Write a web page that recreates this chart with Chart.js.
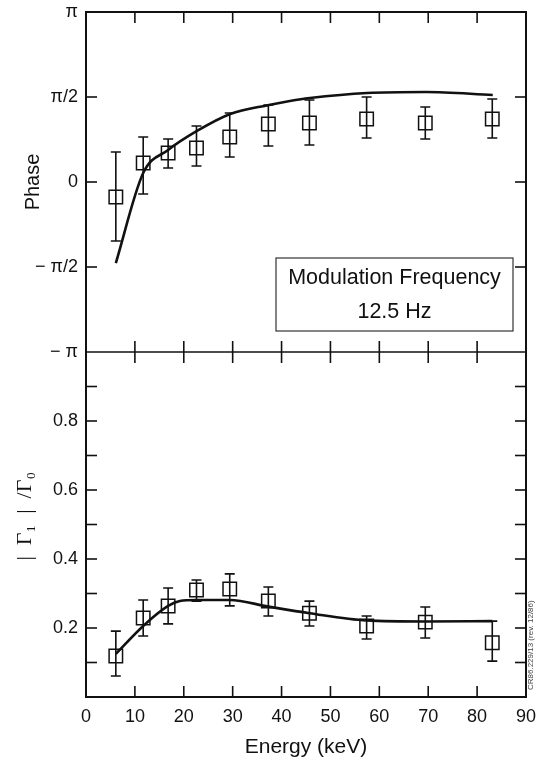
<!DOCTYPE html>
<html>
<head>
<meta charset="utf-8">
<script src="https://cdn.jsdelivr.net/npm/chart.js@4.4.1/dist/chart.umd.min.js"></script>
<style>
  html, body { margin: 0; padding: 0; background: #fff; }
</style>
</head>
<body>
<canvas id="chart" width="537" height="766"></canvas>
<script>
// energies of the measured points (keV)
const ENERGY = [6.1, 11.7, 16.8, 22.6, 29.4, 37.3, 45.7, 57.4, 69.4, 83.1];

// phase (radians) with error bar ends
const PHASE    = [-0.277, 0.351, 0.536, 0.628, 0.832, 1.072, 1.090, 1.164, 1.090, 1.164];
const PHASE_LO = [-1.090, -0.222, 0.259, 0.296, 0.462, 0.665, 0.684, 0.813, 0.795, 0.813];
const PHASE_HI = [0.554, 0.832, 0.795, 1.035, 1.275, 1.423, 1.515, 1.571, 1.386, 1.534];

// model curve for phase
const PHASE_FIT_E = [6.1, 11.7, 16.8, 22.7, 29.5, 37.4, 41.7, 45.8, 57.5, 69.5, 83.2];
const PHASE_FIT   = [-1.497, 0.166, 0.591, 0.943, 1.257, 1.423, 1.497, 1.552, 1.645, 1.663, 1.608];

// |Gamma1|/Gamma0 with error bar ends
const AMP    = [0.119, 0.229, 0.264, 0.310, 0.313, 0.278, 0.243, 0.206, 0.217, 0.157];
const AMP_LO = [0.061, 0.177, 0.212, 0.278, 0.264, 0.235, 0.206, 0.168, 0.171, 0.104];
const AMP_HI = [0.191, 0.281, 0.316, 0.339, 0.357, 0.319, 0.278, 0.235, 0.261, 0.220];

// model curve for amplitude
const AMP_FIT_E = [6.1, 11.7, 16.8, 19.2, 22.6, 29.4, 37.3, 45.7, 57.4, 69.4, 83.1];
const AMP_FIT   = [0.125, 0.206, 0.264, 0.278, 0.281, 0.281, 0.262, 0.243, 0.222, 0.219, 0.220];

// axis ticks
const X_TICKS = [0, 10, 20, 30, 40, 50, 60, 70, 80, 90];
const PHASE_TICKS  = [-Math.PI, -Math.PI / 2, 0, Math.PI / 2, Math.PI];
const PHASE_LABELS = ['\u2212 \u03c0', '\u2212 \u03c0/2', '0', '\u03c0/2', '\u03c0'];
const AMP_TICKS  = [0.1, 0.2, 0.3, 0.4, 0.5, 0.6, 0.7, 0.8, 0.9];
const AMP_LABELS = ['', '0.2', '', '0.4', '', '0.6', '', '0.8', ''];

const INK = '#111';
const SANS = "'Liberation Sans', Arial, Helvetica, sans-serif";
const TICK = 11;

Chart.defaults.font.family = SANS;
Chart.defaults.color = INK;

const pts = (xs, ys) => xs.map((x, i) => ({ x: x, y: ys[i] }));

// error bars drawn from the dataset's errLo / errHi arrays
const errorBars = {
  id: 'errorBars',
  afterDatasetsDraw(chart) {
    const ctx = chart.ctx;
    chart.data.datasets.forEach((ds, i) => {
      if (!ds.errLo) return;
      const meta = chart.getDatasetMeta(i);
      const xs = meta.xScale, ys = meta.yScale;
      ctx.save();
      ctx.strokeStyle = INK;
      ctx.lineWidth = 1.6;
      ds.data.forEach((p, j) => {
        const x = xs.getPixelForValue(p.x);
        const y1 = ys.getPixelForValue(ds.errLo[j]);
        const y2 = ys.getPixelForValue(ds.errHi[j]);
        ctx.beginPath();
        ctx.moveTo(x, y1); ctx.lineTo(x, y2);
        ctx.moveTo(x - 5, y1); ctx.lineTo(x + 5, y1);
        ctx.moveTo(x - 5, y2); ctx.lineTo(x + 5, y2);
        ctx.stroke();
      });
      ctx.restore();
    });
  }
};

// frame, inward ticks, legend box, side note
const frame = {
  id: 'frame',
  afterDraw(chart) {
    const { ctx, chartArea: a, scales } = chart;
    const xs = scales.x, yp = scales.yPhase, ya = scales.yAmp;
    const mid = yp.bottom;
    const line = (x1, y1, x2, y2) => { ctx.beginPath(); ctx.moveTo(x1, y1); ctx.lineTo(x2, y2); ctx.stroke(); };
    ctx.save();
    ctx.strokeStyle = INK;
    ctx.lineWidth = 2;
    ctx.strokeRect(a.left, a.top, a.right - a.left, a.bottom - a.top);
    ctx.lineWidth = 1.6;
    line(a.left, mid, a.right, mid);
    xs.ticks.forEach(t => {
      const x = xs.getPixelForValue(t.value);
      if (x <= a.left + 1 || x >= a.right - 1) return;
      line(x, a.top, x, a.top + TICK);
      line(x, mid - TICK, x, mid + TICK);
      line(x, a.bottom, x, a.bottom - TICK);
    });
    [yp, ya].forEach(s => {
      s.ticks.forEach(t => {
        const y = s.getPixelForValue(t.value);
        if (y <= s.top + 1 || y >= s.bottom - 1) return;
        line(a.left, y, a.left + TICK, y);
        line(a.right, y, a.right - TICK, y);
      });
    });

    // legend box
    const bw = 237, bh = 73;
    const bx = a.right - 13 - bw, by = mid - 21 - bh;
    ctx.lineWidth = 1.2;
    ctx.strokeStyle = '#333';
    ctx.strokeRect(bx, by, bw, bh);
    ctx.fillStyle = INK;
    ctx.font = '21.5px ' + SANS;
    ctx.textAlign = 'center';
    ctx.textBaseline = 'middle';
    ctx.fillText('Modulation Frequency', bx + bw / 2, by + 20);
    ctx.fillText('12.5 Hz', bx + bw / 2, by + 54);

    // small reference note on the right edge
    ctx.translate(chart.width - 4, a.bottom - 7);
    ctx.rotate(-Math.PI / 2);
    ctx.font = '8px ' + SANS;
    ctx.textAlign = 'left';
    ctx.textBaseline = 'alphabetic';
    ctx.fillStyle = '#444';
    ctx.fillText('CR86.229/13 (rev. 12/86)', 0, 0, 117);
    ctx.restore();
  }
};

// keep the plot area where the layout padding puts it
const noEdgePad = s => { s.paddingTop = 0; s.paddingBottom = 0; s.paddingLeft = 0; s.paddingRight = 0; };
const fixWidth = s => { s.width = 86; noEdgePad(s); };

new Chart(document.getElementById('chart'), {
  type: 'scatter',
  data: {
    datasets: [
      {
        data: pts(PHASE_FIT_E, PHASE_FIT), yAxisID: 'yPhase',
        showLine: true, cubicInterpolationMode: 'monotone',
        borderColor: INK, borderWidth: 2.6, pointRadius: 0
      },
      {
        data: pts(ENERGY, PHASE), yAxisID: 'yPhase',
        errLo: PHASE_LO, errHi: PHASE_HI,
        pointStyle: 'rect', pointRadius: 9.5, borderWidth: 1.5,
        borderColor: INK, backgroundColor: 'rgba(0,0,0,0)'
      },
      {
        data: pts(AMP_FIT_E, AMP_FIT), yAxisID: 'yAmp',
        showLine: true, cubicInterpolationMode: 'monotone',
        borderColor: INK, borderWidth: 2.6, pointRadius: 0
      },
      {
        data: pts(ENERGY, AMP), yAxisID: 'yAmp',
        errLo: AMP_LO, errHi: AMP_HI,
        pointStyle: 'rect', pointRadius: 9.5, borderWidth: 1.5,
        borderColor: INK, backgroundColor: 'rgba(0,0,0,0)'
      }
    ]
  },
  options: {
    responsive: false,
    animation: false,
    devicePixelRatio: 1,
    layout: { padding: { top: 12, right: 11, left: 0, bottom: 0 } },
    plugins: { legend: { display: false }, tooltip: { enabled: false } },
    scales: {
      x: {
        type: 'linear', min: 0, max: 90,
        afterBuildTicks: s => { s.ticks = X_TICKS.map(v => ({ value: v })); },
        afterFit: s => { s.height = 69; noEdgePad(s); },
        grid: { display: false, drawTicks: false },
        border: { display: false },
        ticks: { font: { size: 18 }, padding: 9, autoSkip: false, maxRotation: 0 },
        title: { display: true, text: 'Energy (keV)', font: { size: 21 }, padding: { top: 0, bottom: 6 } }
      },
      yAmp: {
        type: 'linear', position: 'left', stack: 'left', stackWeight: 345,
        min: 0, max: 1,
        afterBuildTicks: s => { s.ticks = AMP_TICKS.map(v => ({ value: v })); },
        afterFit: fixWidth,
        grid: { display: false, drawTicks: false },
        border: { display: false },
        ticks: { font: { size: 18 }, padding: 8, autoSkip: false, callback: (v, i) => AMP_LABELS[i] },
        title: {
          display: true, text: '   |  \u0393\u2081  |  /\u0393\u2080',
          font: { size: 22, family: "'Liberation Serif', 'DejaVu Serif', serif" },
          padding: { top: 12, bottom: 0 }
        }
      },
      yPhase: {
        type: 'linear', position: 'left', stack: 'left', stackWeight: 340,
        min: -Math.PI, max: Math.PI,
        afterBuildTicks: s => { s.ticks = PHASE_TICKS.map(v => ({ value: v })); },
        afterFit: fixWidth,
        grid: { display: false, drawTicks: false },
        border: { display: false },
        ticks: { font: { size: 18 }, padding: 8, autoSkip: false, callback: (v, i) => PHASE_LABELS[i] },
        title: { display: true, text: 'Phase', font: { size: 20 }, padding: { top: 21, bottom: 0 } }
      }
    }
  },
  plugins: [errorBars, frame]
});
</script>
</body>
</html>
